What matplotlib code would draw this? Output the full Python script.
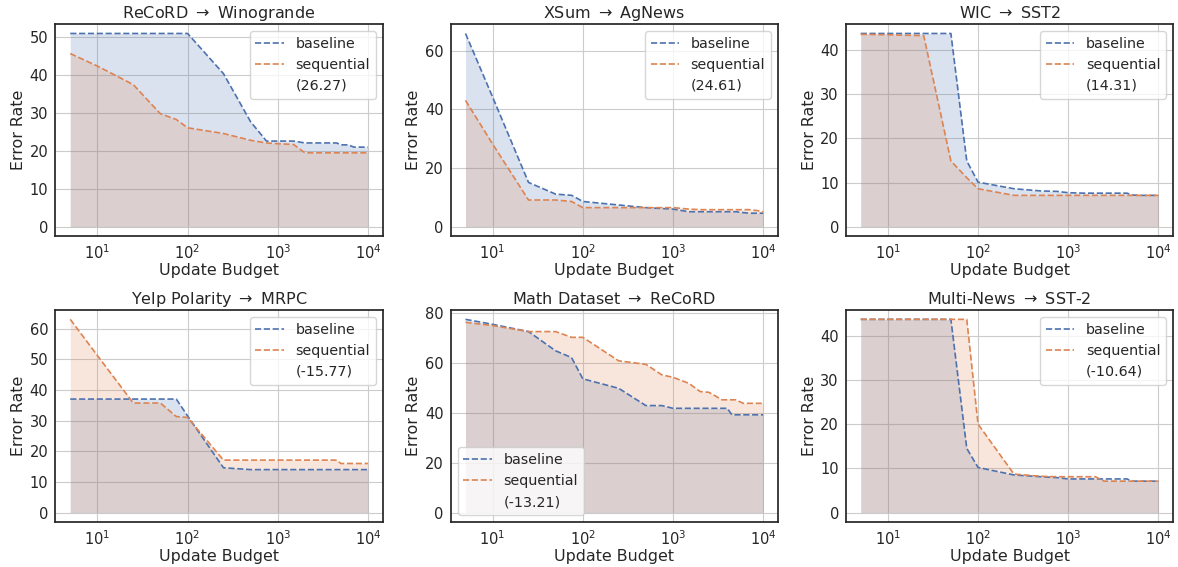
import numpy as np
import matplotlib
matplotlib.use("Agg")
import matplotlib.pyplot as plt
import matplotlib.ticker as mticker
import seaborn as sns

# Update budgets (shared x values for every panel)
BUDGETS = [5, 10, 25, 50, 75, 100, 250, 500, 750, 1000, 1500, 2000, 2500,
           3000, 3500, 4000, 4500, 5000, 6000, 7000, 8000, 9000, 10000]

TITLES = [r"ReCoRD $\rightarrow$ Winogrande", r"XSum $\rightarrow$ AgNews",
          r"WIC $\rightarrow$ SST2", r"Yelp Polarity $\rightarrow$ MRPC",
          r"Math Dataset $\rightarrow$ ReCoRD", r"Multi-News $\rightarrow$ SST-2"]
SCORES = ["(26.27)", "(24.61)", "(14.31)", "(-15.77)", "(-13.21)", "(-10.64)"]

record_wino_base = [51.0, 51.0, 51.0, 51.0, 51.0, 51.0, 40.4, 27.7, 22.6, 22.6, 22.6, 22.1,
                    22.1, 22.1, 22.1, 22.1, 22.1, 21.6, 21.6, 21.0, 21.0, 21.0, 21.0]
record_wino_seq = [45.7, 42.4, 37.5, 29.8, 28.3, 26.1, 24.6, 22.8, 22.1, 21.9, 21.7, 19.5,
                   19.5, 19.5, 19.5, 19.5, 19.5, 19.5, 19.5, 19.5, 19.5, 19.5, 19.5]

xsum_ag_base = [65.9, 44.2, 15.1, 11.1, 10.7, 8.6, 7.4, 6.5, 6.2, 6.0, 5.1, 5.1,
                5.1, 5.1, 5.1, 5.1, 5.1, 5.1, 4.8, 4.6, 4.6, 4.6, 4.6]
xsum_ag_seq = [43.1, 28.2, 9.1, 9.1, 8.6, 6.5, 6.5, 6.5, 6.5, 6.5, 6.0, 5.8,
               5.8, 5.8, 5.8, 5.8, 5.8, 5.8, 5.8, 5.8, 5.6, 5.4, 5.1]

wic_sst2_base = [43.8, 43.8, 43.8, 43.8, 14.9, 10.1, 8.6, 8.1, 8.0, 7.7, 7.6, 7.6,
                 7.6, 7.6, 7.6, 7.6, 7.6, 7.2, 7.1, 7.1, 7.1, 7.1, 7.1]
wic_sst2_seq = [43.6, 43.5, 43.3, 14.9, 11.1, 8.6, 7.1, 7.1, 7.1, 7.1, 7.1, 7.1,
                7.1, 7.1, 7.1, 7.1, 7.1, 7.1, 7.1, 7.1, 7.1, 7.1, 7.1]

yelp_mrpc_base = [37.0, 37.0, 37.0, 37.0, 37.0, 31.5, 14.6, 14.0, 14.0, 14.0, 14.0, 14.0,
                  14.0, 14.0, 14.0, 14.0, 14.0, 14.0, 14.0, 14.0, 14.0, 14.0, 14.0]
yelp_mrpc_seq = [63.0, 51.2, 35.7, 35.7, 31.3, 31.0, 17.1, 17.1, 17.1, 17.1, 17.1, 17.1,
                 17.1, 17.1, 17.1, 17.1, 17.1, 16.0, 16.0, 16.0, 16.0, 16.0, 16.0]

math_record_base = [77.3, 75.3, 72.4, 64.7, 62.0, 53.5, 49.7, 42.8, 42.8, 41.7, 41.7, 41.7,
                    41.7, 41.7, 41.7, 41.7, 39.1, 39.1, 39.1, 39.1, 39.1, 39.1, 39.1]
math_record_seq = [76.1, 74.8, 72.4, 72.4, 70.1, 70.1, 60.7, 59.3, 55.1, 54.1, 51.7, 48.4,
                   48.1, 46.5, 45.1, 45.1, 45.1, 45.1, 43.7, 43.7, 43.7, 43.7, 43.7]

multinews_sst2_base = [43.7, 43.7, 43.7, 43.7, 14.5, 10.2, 8.5, 8.1, 7.9, 7.6, 7.6, 7.6,
                       7.6, 7.6, 7.6, 7.6, 7.6, 7.1, 7.1, 7.1, 7.1, 7.1, 7.1]
multinews_sst2_seq = [43.7, 43.7, 43.7, 43.7, 43.7, 20.0, 8.7, 8.2, 8.1, 8.1, 8.1, 8.1,
                      7.1, 7.1, 7.1, 7.1, 7.1, 7.1, 7.1, 7.1, 7.1, 7.1, 7.1]

BASELINES = [record_wino_base, xsum_ag_base, wic_sst2_base,
             yelp_mrpc_base, math_record_base, multinews_sst2_base]
SEQUENTIALS = [record_wino_seq, xsum_ag_seq, wic_sst2_seq,
               yelp_mrpc_seq, math_record_seq, multinews_sst2_seq]

# layout-only settings
YSTEPS = [10, 20, 10, 10, 20, 10]
LEGEND_LOCS = ["upper right"] * 4 + ["lower left", "upper right"]

sns.set_style("whitegrid", {"axes.edgecolor": ".15", "grid.color": ".8"})
plt.rcParams["font.family"] = ["DejaVu Sans"]
plt.rcParams["mathtext.fontset"] = "dejavusans"
plt.rcParams["axes.linewidth"] = 1.25

colors = sns.color_palette("deep")
blue, orange = colors[0], colors[1]

fig, axes = plt.subplots(2, 3, figsize=(11.78, 5.67), dpi=100)
fig.subplots_adjust(left=0.047, right=0.996, top=0.958, bottom=0.079,
                    wspace=0.207, hspace=0.345)

x = np.array(BUDGETS)
for i, ax in enumerate(axes.flat):
    base = np.array(BASELINES[i])
    seq = np.array(SEQUENTIALS[i])
    ax.plot(x, base, "--", color=blue, lw=1.2, label="baseline")
    ax.fill_between(x, base, color=blue, alpha=0.2, lw=0)
    ax.plot(x, seq, "--", color=orange, lw=1.2, label="sequential")
    ax.fill_between(x, seq, color=orange, alpha=0.2, lw=0)
    ax.plot([], [], " ", label=SCORES[i])

    ax.set_xscale("log")
    ax.xaxis.set_minor_locator(mticker.NullLocator())
    ax.yaxis.set_major_locator(mticker.MultipleLocator(YSTEPS[i]))
    ax.set_title(TITLES[i], fontsize=11.5, color=".15", pad=4)
    ax.set_xlabel("Update Budget", fontsize=11.4, color=".15", labelpad=0.5)
    ax.set_ylabel("Error Rate", fontsize=11.4, color=".15", labelpad=2.5)
    ax.tick_params(labelsize=10.5, colors=".15", length=0, pad=5)
    ax.legend(loc=LEGEND_LOCS[i], fontsize=10.3, framealpha=0.8)

fig.savefig("out.png", dpi=100, facecolor="white")
